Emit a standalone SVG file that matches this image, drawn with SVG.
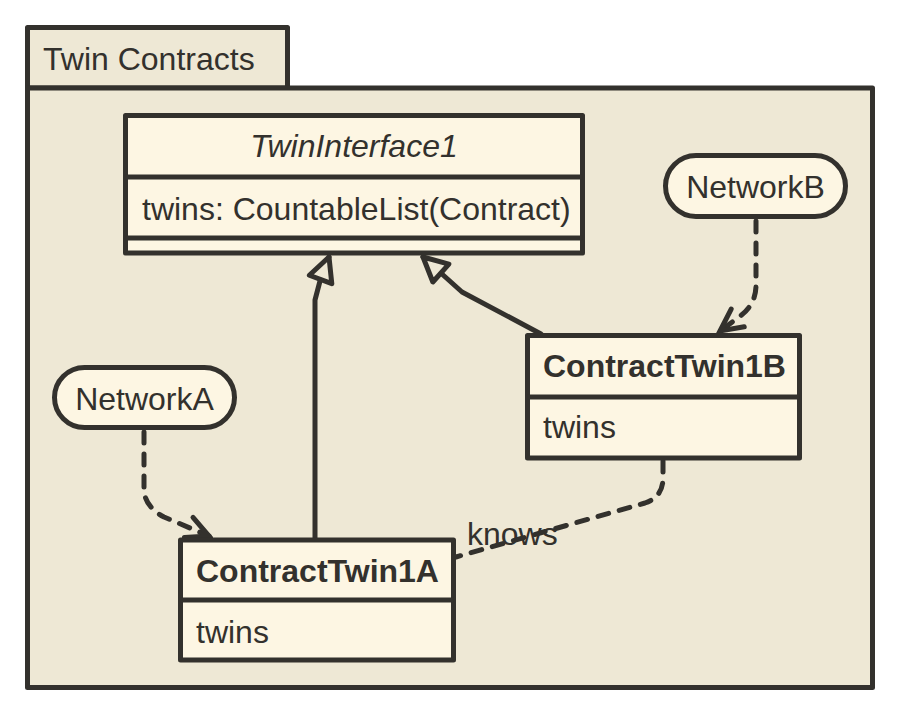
<svg xmlns="http://www.w3.org/2000/svg" width="898" height="714" viewBox="0 0 898 714">
<style>
.pkg{fill:#EEE8D5;stroke:#33312D;stroke-width:5;stroke-linejoin:round}
.box{fill:#FDF6E3;stroke:#33312D;stroke-width:5;stroke-linejoin:round}
.sep{stroke:#33312D;stroke-width:5;fill:none}
.t{font-family:"Liberation Sans",Arial,Helvetica,sans-serif;font-size:32px;fill:#33312D}
.b{font-weight:bold}
.i{font-style:italic}
.dash{fill:none;stroke:#33312D;stroke-width:5;stroke-dasharray:11 11;stroke-linecap:round;stroke-linejoin:round}
.solid{fill:none;stroke:#33312D;stroke-width:5;stroke-linejoin:round;stroke-linecap:round}
</style>
<defs>
<marker id="open" viewBox="-4 -14 30 28" refX="22" refY="0" markerWidth="30" markerHeight="28" markerUnits="userSpaceOnUse" orient="auto">
<path d="M0,-11 L22,0 L0,11" fill="none" stroke="#33312D" stroke-width="5" stroke-linejoin="miter" stroke-linecap="round"/>
</marker>
<marker id="tri" viewBox="-4 -16 32 32" refX="24" refY="0" markerWidth="32" markerHeight="32" markerUnits="userSpaceOnUse" orient="auto">
<path d="M0,-12 L24,0 L0,12 Z" fill="#EEE8D5" stroke="#33312D" stroke-width="5" stroke-linejoin="round"/>
</marker>
</defs>
<g id="package">
<rect class="pkg" x="27.5" y="27.5" width="260" height="60.5"/>
<rect class="pkg" x="27.5" y="88" width="845" height="599.5"/>
<text class="t" x="43" y="70">Twin Contracts</text>
</g>
<g id="connectors">
<path class="dash" d="M144,432 L144,490 Q145,507 164,517 L209,536" marker-end="url(#open)"/>
<path class="dash" d="M756,221 L756,285 Q756,305 739,317 L720,331" marker-end="url(#open)"/>
<path class="dash" d="M663,461 L663,478 Q663,497 645,503 L456,557"/>
<path class="solid" d="M315,538 L315,300 L320,281 L329,257" marker-end="url(#tri)"/>
<path class="solid" d="M541,334 L462,292 L423,257" marker-end="url(#tri)"/>
<text class="t" x="467" y="545">knows</text>
</g>
<g id="TwinInterface1">
<rect class="box" x="125.5" y="115.5" width="457" height="137.5"/>
<line class="sep" x1="125.5" y1="177" x2="582.5" y2="177"/>
<line class="sep" x1="125.5" y1="238" x2="582.5" y2="238"/>
<text class="t i" x="354" y="157" text-anchor="middle">TwinInterface1</text>
<text class="t" x="142" y="220">twins: CountableList(Contract)</text>
</g>
<g id="NetworkB">
<rect class="box" x="665.5" y="155.5" width="180" height="61" rx="30.5"/>
<text class="t" x="755.5" y="198" text-anchor="middle">NetworkB</text>
</g>
<g id="ContractTwin1B">
<rect class="box" x="527.5" y="335.5" width="272" height="122.5"/>
<line class="sep" x1="527.5" y1="397" x2="799.5" y2="397"/>
<text class="t b" x="543" y="377">ContractTwin1B</text>
<text class="t" x="543" y="438">twins</text>
</g>
<g id="NetworkA">
<rect class="box" x="54.5" y="367.5" width="180" height="60" rx="30"/>
<text class="t" x="144.5" y="410" text-anchor="middle">NetworkA</text>
</g>
<g id="ContractTwin1A">
<rect class="box" x="180.5" y="540" width="273" height="120"/>
<line class="sep" x1="180.5" y1="600" x2="453.5" y2="600"/>
<text class="t b" x="196" y="582">ContractTwin1A</text>
<text class="t" x="196" y="643">twins</text>
</g>
</svg>
